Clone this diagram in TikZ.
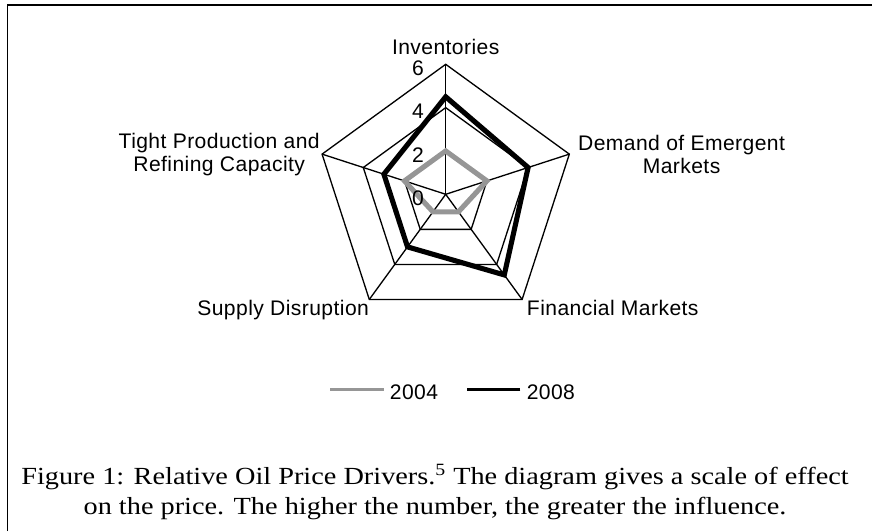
\documentclass[tikz,border=0pt]{standalone}
\usepackage{fontspec}
\setmainfont{Liberation Serif}[FakeStretch=1.15]
\setsansfont{Liberation Sans}[LetterSpace=2]
\usetikzlibrary{positioning}
\definecolor{s04}{RGB}{150,150,150}
\begin{document}
\begin{tikzpicture}[
		lab/.style={font=\sffamily\fontsize{12}{13.1}\selectfont, inner sep=0pt},
		grid/.style={line width=0.75pt},
		ser04/.style={line width=2.9pt, color=s04},
		ser08/.style={line width=2.9pt, black},
		leg04/.style={line width=1.2pt, color=s04},
		leg08/.style={line width=1.2pt, black}]
		\useasboundingbox (0,0) rectangle (17.44,10.62);
		\draw[line width=1.1pt] (0.15,0)|-(17.44,10.52);
		% radar
		\begin{scope}[shift={(8.914,6.734)}, scale=0.4333]
			\coordinate (o) at (0,0);
			\foreach \a [count=\i] in {90,18,-54,-126,162}
				\coordinate (v\i) at (\a:6);
			\foreach \r in {2,4,6}
				\draw[grid] (90:\r)--(18:\r)--(-54:\r)--(-126:\r)--(162:\r)--cycle;
			\foreach \i in {1,...,5}
				\draw[grid] (o)--(v\i);
			\draw[ser04] (90:2)--(18:2)--(-54:1)--(-126:1)--(162:2)--cycle;
			\draw[ser08] (90:4.5)--(18:4)--(-54:4.6)--(-126:3)--(162:3)--cycle;
			\foreach \r in {0,2,4,6}
				\node[lab, anchor=east, xshift=-0.43cm, yshift=-0.08cm] (n\r) at (90:\r) {\r};
		\end{scope}
		\node[lab, anchor=south, yshift=0.18cm] (inv) at (v1) {Inventories};
		\node[lab, anchor=west, align=center, xshift=0.17cm] (dem) at (v2) {Demand of Emergent\\Markets};
		\node[lab, anchor=north west, xshift=0.09cm] (fin) at (v3) {Financial Markets};
		\node[lab, anchor=north east] (sup) at (v4) {Supply Disruption};
		\node[lab, anchor=east, align=center, xshift=-0.04cm] (tig) at (v5) {Tight Production and\\Refining Capacity};
		% legend
		\node[lab] (y04) at (8.28,2.78) {2004};
		\node[lab, right=1.76cm of y04] (y08) {2008};
		\draw[leg04] ([xshift=-0.12cm, yshift=0.05cm]y04.west)--++(-1.07,0);
		\draw[leg08] ([xshift=-0.12cm, yshift=0.05cm]y08.west)--++(-1.07,0);
		% caption
		\node[align=center, font=\fontsize{14}{17}\selectfont] (cap) at (8.7,0.78) {Figure 1: Relative Oil Price Drivers.\textsuperscript{5} The diagram gives a scale of effect\\on the price. The higher the number, the greater the influence.};
	\end{tikzpicture}
\end{document}
